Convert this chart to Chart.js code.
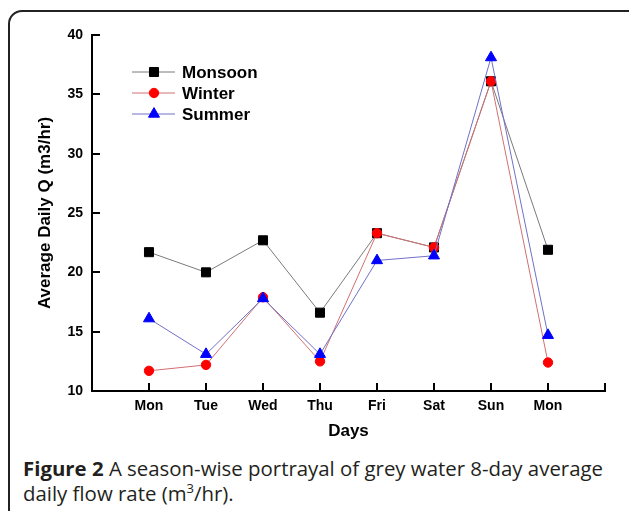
<!DOCTYPE html>
<html>
<head>
<meta charset="utf-8">
<script src="https://cdn.jsdelivr.net/npm/chart.js@4/dist/chart.umd.min.js"></script>
<style>
  body { margin: 0; background: #fff; width: 629px; height: 511px; overflow: hidden; position: relative; }
  #frame { position: absolute; left: 8px; top: 10px; width: 640px; height: 520px; border: 2px solid #222; border-radius: 14px; }
  #wrap { position: absolute; left: 0; top: 0; width: 629px; height: 450px; }
  #caption { position: absolute; left: 23px; top: 456px; width: 606px; white-space: nowrap; font-family: "Open Sans", sans-serif; font-size: 20.4px; line-height: 25px; color: #231f20; }
  #caption b { font-weight: 700; }
  #caption sup { font-size: 13px; line-height: 0; }
</style>
</head>
<body>
<div id="frame"></div>
<div id="wrap"><canvas id="chart" width="629" height="450"></canvas></div>
<div id="caption"><b>Figure 2</b> A season-wise portrayal of grey water 8-day average<br>daily flow rate (m<sup>3</sup>/hr).</div>
<script>
// data
const days = ['Mon', 'Tue', 'Wed', 'Thu', 'Fri', 'Sat', 'Sun', 'Mon'];
const monsoon = [21.7, 20.0, 22.7, 16.6, 23.3, 22.1, 36.1, 21.9];
const winter = [11.7, 12.2, 17.9, 12.5, 23.3, 22.1, 36.1, 12.4];
const summer = [16.1, 13.1, 17.8, 13.1, 21.0, 21.4, 38.1, 14.7];
const seriesNames = ['Monsoon', 'Winter', 'Summer'];

function toPoints(values) {
    return values.map((v, i) => ({ x: i + 1, y: v }));
}

// legend drawn inside the plot, line + marker + label
const insideLegend = {
    id: 'insideLegend',
    afterDraw(chart) {
        const ctx = chart.ctx;
        const x0 = 132, x1 = 175, ys = [72, 93, 114];
        chart.data.datasets.forEach((ds, i) => {
            const y = ys[i];
            ctx.save();
            ctx.strokeStyle = ds.borderColor;
            ctx.lineWidth = 1;
            ctx.beginPath();
            ctx.moveTo(x0, y);
            ctx.lineTo(x1, y);
            ctx.stroke();
            ctx.fillStyle = ds.pointBackgroundColor;
            ctx.strokeStyle = ds.pointBorderColor;
            ctx.lineWidth = 1;
            Chart.helpers.drawPoint(ctx, { pointStyle: ds.pointStyle, radius: ds.pointRadius, borderWidth: 1, rotation: 0 }, 154, y);
            ctx.fillStyle = '#000';
            ctx.font = 'bold 17px "Liberation Sans", Arial, sans-serif';
            ctx.textBaseline = 'middle';
            ctx.textAlign = 'left';
            ctx.fillText(ds.label, 182, y + 1);
            ctx.restore();
        });
    }
};

const ctx = document.getElementById('chart').getContext('2d');
const chart = new Chart(ctx, {
    type: 'line',
    data: {
        datasets: [{
            label: seriesNames[0],
            data: toPoints(monsoon),
            borderColor: '#7a7a7a',
            borderWidth: 1,
            pointStyle: 'rect',
            pointRadius: 6.4,
            pointBackgroundColor: '#000',
            pointBorderColor: '#000',
            pointBorderWidth: 1,
            order: 3
        }, {
            label: seriesNames[1],
            data: toPoints(winter),
            borderColor: '#d07070',
            borderWidth: 1,
            pointStyle: 'circle',
            pointRadius: 4.7,
            pointBackgroundColor: '#ff0000',
            pointBorderColor: '#ff0000',
            pointBorderWidth: 1,
            order: 2
        }, {
            label: seriesNames[2],
            data: toPoints(summer),
            borderColor: '#7070c8',
            borderWidth: 1,
            pointStyle: 'triangle',
            pointRadius: 6.4,
            pointBackgroundColor: '#0000ff',
            pointBorderColor: '#0000ff',
            pointBorderWidth: 1,
            order: 1
        }]
    },
    options: {
        responsive: false,
        animation: false,
        layout: { padding: { left: 0, right: 24, top: 35, bottom: 0 } },
        plugins: {
            legend: { display: false },
            tooltip: { enabled: false }
        },
        scales: {
            x: {
                type: 'linear',
                min: 0,
                max: 9,
                afterFit: (scale) => { scale.height = 59; },
                grid: { drawOnChartArea: false, tickLength: -8, color: '#000', lineWidth: 2 },
                border: { display: true, color: '#000', width: 2 },
                ticks: {
                    stepSize: 1,
                    padding: 15,
                    color: '#000',
                    font: { family: '"Liberation Sans", Arial, sans-serif', size: 14, weight: 'bold' },
                    callback: (v) => days[v - 1] || ''
                },
                title: {
                    display: true,
                    text: 'Days',
                    color: '#000',
                    font: { family: '"Liberation Sans", Arial, sans-serif', size: 17, weight: 'bold' },
                    padding: { top: 0, bottom: 8 }
                }
            },
            y: {
                min: 10,
                max: 40,
                afterFit: (scale) => { scale.width = 92; },
                grid: { drawOnChartArea: false, tickLength: -8, color: '#000', lineWidth: 2 },
                border: { display: true, color: '#000', width: 2 },
                ticks: {
                    stepSize: 5,
                    padding: 17,
                    color: '#000',
                    font: { family: '"Liberation Sans", Arial, sans-serif', size: 14, weight: 'bold' }
                },
                title: {
                    display: true,
                    text: 'Average Daily Q (m3/hr)',
                    color: '#000',
                    font: { family: '"Liberation Sans", Arial, sans-serif', size: 17, weight: 'bold' },
                    padding: { top: 35, bottom: 0 }
                }
            }
        }
    },
    plugins: [insideLegend]
});
</script>
</body>
</html>
